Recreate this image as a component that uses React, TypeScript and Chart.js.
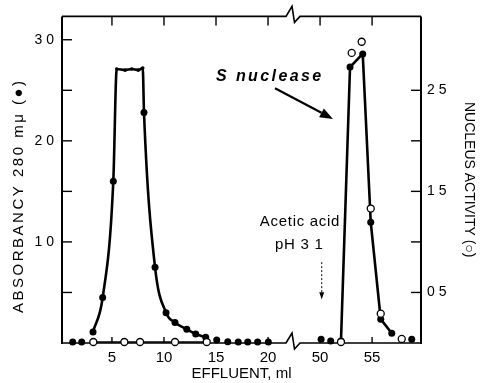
import React, { useEffect, useRef } from 'react';
import { Chart, registerables } from 'chart.js';

Chart.register(...registerables);

const FONT = "'Liberation Sans', Arial, Helvetica, sans-serif";

// ---- x axis (ml of effluent); the axis is broken between 20 and 50 ml ----
const xTickValues = [5, 10, 15, 20, 50, 55];
const xTickLabels = ['5', '10', '15', '20', '50', '55'];
const BREAK_SHIFT = 25; // ml cut out by the axis break
const BREAK_AT = 22.4; // axis position (after shift) of the break mark
const toU = (ml: number) => (ml >= 40 ? ml - BREAK_SHIFT : ml);

// ---- y axes ----
const leftTickValues = [1, 2, 3];
const leftTickLabels = ['1 0', '2 0', '3 0'];
const leftMarks = [0.5, 1, 1.5, 2, 2.5, 3];
const rightTickValues = [0.5, 1.5, 2.5];
const rightTickLabels = ['0 5', '1 5', '2 5'];
const rightMarks = [0.5, 1, 1.5, 2, 2.5];

// ---- Absorbancy 280 mµ (filled circles) ----
const absPeak1X = [3.18, 4.11, 5.13, 5.46, 6.26, 6.9, 7.53, 7.96, 8.08, 9.14, 10.2, 11.06, 12.19, 13.05, 14.01];
const absPeak1Y = [0.11, 0.45, 1.6, 2.71, 2.7, 2.71, 2.7, 2.72, 2.28, 0.75, 0.3, 0.204, 0.135, 0.089, 0.056];
const absPeak2X = [52.01, 52.88, 54.1, 54.87, 55.83, 56.89];
const absPeak2Y = [0.02, 2.73, 2.86, 1.195, 0.236, 0.096];
const absDotsX = [1.23, 2.09, 15.07, 16.13, 17.14, 18.05, 19.0, 20.03, 50.1, 51.02, 58.81];
const absDotsY = [0.01, 0.01, 0.03, 0.013, 0.01, 0.01, 0.01, 0.01, 0.036, 0.02, 0.036];

// ---- Nucleus activity (open circles) ----
const nucBaseX = [3.21, 6.19, 7.7, 11.06, 14.11];
const nucBaseY = [0.01, 0.01, 0.01, 0.01, 0.01];
const nucPeakX = [52.01, 53.04, 54.0, 54.87, 55.83, 57.85];
const nucPeakY = [0.01, 2.87, 2.98, 1.33, 0.29, 0.04];

const pts = (xs: number[], ys: number[]) => xs.map((x, i) => ({ x: toU(x), y: ys[i] }));

const framePlugin = {
  id: 'frame',
  beforeDatasetsDraw(chart: any) {
    const { ctx, chartArea: a, scales } = chart;
    const xs = scales.x;
    const yl = scales.y;
    const yr = scales.y2;
    ctx.save();
    ctx.strokeStyle = '#000';
    ctx.lineCap = 'butt';
    const seg = (x1: number, y1: number, x2: number, y2: number) => {
      ctx.beginPath();
      ctx.moveTo(x1, y1);
      ctx.lineTo(x2, y2);
      ctx.stroke();
    };
    const bx = xs.getPixelForValue(BREAK_AT);
    const hline = (y: number) => {
      ctx.beginPath();
      ctx.moveTo(a.left, y);
      ctx.lineTo(bx - 7, y);
      ctx.lineTo(bx - 1, y - 10);
      ctx.lineTo(bx + 1.5, y + 6);
      ctx.lineTo(bx + 7, y);
      ctx.lineTo(a.right, y);
      ctx.stroke();
    };
    ctx.lineWidth = 1.6;
    hline(a.top);
    hline(a.bottom);
    ctx.lineWidth = 2;
    seg(a.left, a.top, a.left, a.bottom + 1);
    seg(a.right, a.top, a.right, a.bottom + 1);
    ctx.lineWidth = 1.4;
    for (const v of xTickValues) {
      const px = xs.getPixelForValue(toU(v));
      seg(px, a.bottom, px, a.bottom - 6);
      seg(px, a.top, px, a.top + 9);
    }
    for (const v of leftMarks) {
      const py = yl.getPixelForValue(v);
      seg(a.left, py, a.left + 10, py);
    }
    for (const v of rightMarks) {
      const py = yr.getPixelForValue(v);
      seg(a.right - 10, py, a.right, py);
    }
    ctx.restore();
  },
  afterDraw(chart: any) {
    const { ctx, scales, chartArea: a } = chart;
    const xs = scales.x;
    const ys = scales.y;
    const X = (u: number) => xs.getPixelForValue(u);
    const Y = (v: number) => ys.getPixelForValue(v);
    ctx.save();
    ctx.fillStyle = '#000';
    ctx.strokeStyle = '#000';

    // left axis title (wide letter spacing as in the original)
    ctx.save();
    ctx.translate(18.5, (a.top + a.bottom) / 2 + 16);
    ctx.rotate(-Math.PI / 2);
    ctx.font = `15px ${FONT}`;
    (ctx as any).letterSpacing = '2.5px';
    ctx.textAlign = 'center';
    ctx.textBaseline = 'middle';
    ctx.fillText('ABSORBANCY 280 mμ (●)', 0, 0);
    ctx.restore();

    // "S nuclease" label and arrow
    ctx.save();
    ctx.font = `italic bold 16px ${FONT}`;
    (ctx as any).letterSpacing = '2.4px';
    ctx.textAlign = 'left';
    ctx.textBaseline = 'alphabetic';
    ctx.fillText('S nuclease', X(15.0), Y(2.59));
    ctx.restore();
    const drawArrow = (x1: number, y1: number, x2: number, y2: number, len: number, half: number, lw: number, dash: number[]) => {
      const dx = x2 - x1;
      const dy = y2 - y1;
      const d = Math.hypot(dx, dy);
      const ux = dx / d;
      const uy = dy / d;
      const bxp = x2 - ux * len;
      const byp = y2 - uy * len;
      ctx.save();
      ctx.lineWidth = lw;
      ctx.setLineDash(dash);
      ctx.beginPath();
      ctx.moveTo(x1, y1);
      ctx.lineTo(bxp, byp);
      ctx.stroke();
      ctx.setLineDash([]);
      ctx.beginPath();
      ctx.moveTo(x2, y2);
      ctx.lineTo(bxp - uy * half, byp + ux * half);
      ctx.lineTo(bxp + uy * half, byp - ux * half);
      ctx.closePath();
      ctx.fill();
      ctx.restore();
    };
    drawArrow(X(20.67), Y(2.52), X(26.24), Y(2.217), 13, 5, 2.2, []);

    // Acetic acid annotation
    ctx.save();
    ctx.font = `15px ${FONT}`;
    (ctx as any).letterSpacing = '0.7px';
    ctx.textAlign = 'center';
    ctx.textBaseline = 'middle';
    ctx.fillText('Acetic acid', X(23.07), Y(1.2));
    ctx.fillText('pH 3 1', X(23.0), Y(0.975));
    ctx.restore();
    drawArrow(X(25.16), Y(0.8), X(25.16), Y(0.433), 7, 2.5, 1, [2, 2]);

    ctx.restore();
  },
};

export default function App() {
  const ref = useRef<HTMLCanvasElement>(null);
  useEffect(() => {
    Chart.defaults.font.family = FONT;
    Chart.defaults.color = '#000';
    const filled = {
      pointBackgroundColor: '#000',
      pointBorderColor: '#000',
      pointBorderWidth: 0,
      pointRadius: 3.5,
      borderColor: '#000',
      yAxisID: 'y',
      clip: false as any,
    };
    const open = {
      pointBackgroundColor: '#fff',
      pointBorderColor: '#000',
      pointBorderWidth: 1.3,
      pointRadius: 3.5,
      borderColor: '#000',
      yAxisID: 'y2',
      clip: false as any,
    };
    const chart = new Chart(ref.current!, {
      type: 'scatter',
      data: {
        datasets: [
          { label: 'Nucleus activity (peak)', data: pts(nucPeakX, nucPeakY), showLine: false, ...open },
          { label: 'Nucleus activity', data: pts(nucBaseX, nucBaseY), showLine: true, borderWidth: 1.5, ...open },
          { label: 'Absorbancy (baseline)', data: pts(absDotsX, absDotsY), showLine: false, ...filled },
          { label: 'Absorbancy (S nuclease)', data: pts(absPeak2X, absPeak2Y), showLine: true, borderWidth: 2.6, tension: 0, ...filled },
          {
            label: 'Absorbancy',
            data: pts(absPeak1X, absPeak1Y),
            showLine: true,
            borderWidth: 2.6,
            cubicInterpolationMode: 'monotone',
            ...filled,
            pointRadius: (c: any) => (c.raw && c.raw.y > 2.65 ? 1.8 : 3.5),
          },
        ] as any,
      },
      options: {
        responsive: false,
        animation: false,
        events: [],
        layout: { padding: { top: 15, left: 0, right: 0, bottom: 0 } },
        plugins: { legend: { display: false }, tooltip: { enabled: false } },
        scales: {
          x: {
            type: 'linear',
            min: 0.2,
            max: 34.7,
            grid: { display: false, drawTicks: false },
            border: { display: false },
            afterFit: (s: any) => {
              s.height = 40;
            },
            afterBuildTicks: (s: any) => {
              s.ticks = xTickValues.map((v) => ({ value: toU(v) }));
            },
            ticks: {
              autoSkip: false,
              maxRotation: 0,
              padding: 6,
              color: '#000',
              font: { size: 15, family: FONT },
              callback: (_v: any, i: number) => xTickLabels[i],
            },
            title: {
              display: true,
              text: 'EFFLUENT, ml',
              color: '#000',
              font: { size: 15, family: FONT },
              padding: { top: 0, bottom: 0 },
            },
          },
          y: {
            type: 'linear',
            position: 'left',
            min: 0,
            max: 3.231,
            grid: { display: false, drawTicks: false },
            border: { display: false },
            afterFit: (s: any) => {
              s.width = 62;
            },
            afterBuildTicks: (s: any) => {
              s.ticks = leftTickValues.map((v) => ({ value: v }));
            },
            ticks: {
              autoSkip: false,
              padding: 8,
              color: '#000',
              font: { size: 14, family: FONT },
              callback: (_v: any, i: number) => leftTickLabels[i],
            },
          },
          y2: {
            type: 'linear',
            position: 'right',
            min: 0,
            max: 3.231,
            grid: { display: false, drawTicks: false },
            border: { display: false },
            afterFit: (s: any) => {
              s.width = 60;
            },
            afterBuildTicks: (s: any) => {
              s.ticks = rightTickValues.map((v) => ({ value: v }));
            },
            ticks: {
              autoSkip: false,
              padding: 6,
              color: '#000',
              font: { size: 14, family: FONT },
              callback: (_v: any, i: number) => rightTickLabels[i],
            },
            title: {
              display: true,
              text: 'NUCLEUS ACTIVITY (○)',
              color: '#000',
              font: { size: 14, family: FONT },
              padding: { top: 4, bottom: 0 },
            },
          },
        },
      } as any,
      plugins: [framePlugin],
    });
    return () => chart.destroy();
  }, []);
  return (
    <canvas
      ref={ref}
      width={481}
      height={383}
      style={{ position: 'absolute', left: 0, top: 0, display: 'block', background: '#fff' }}
    />
  );
}
